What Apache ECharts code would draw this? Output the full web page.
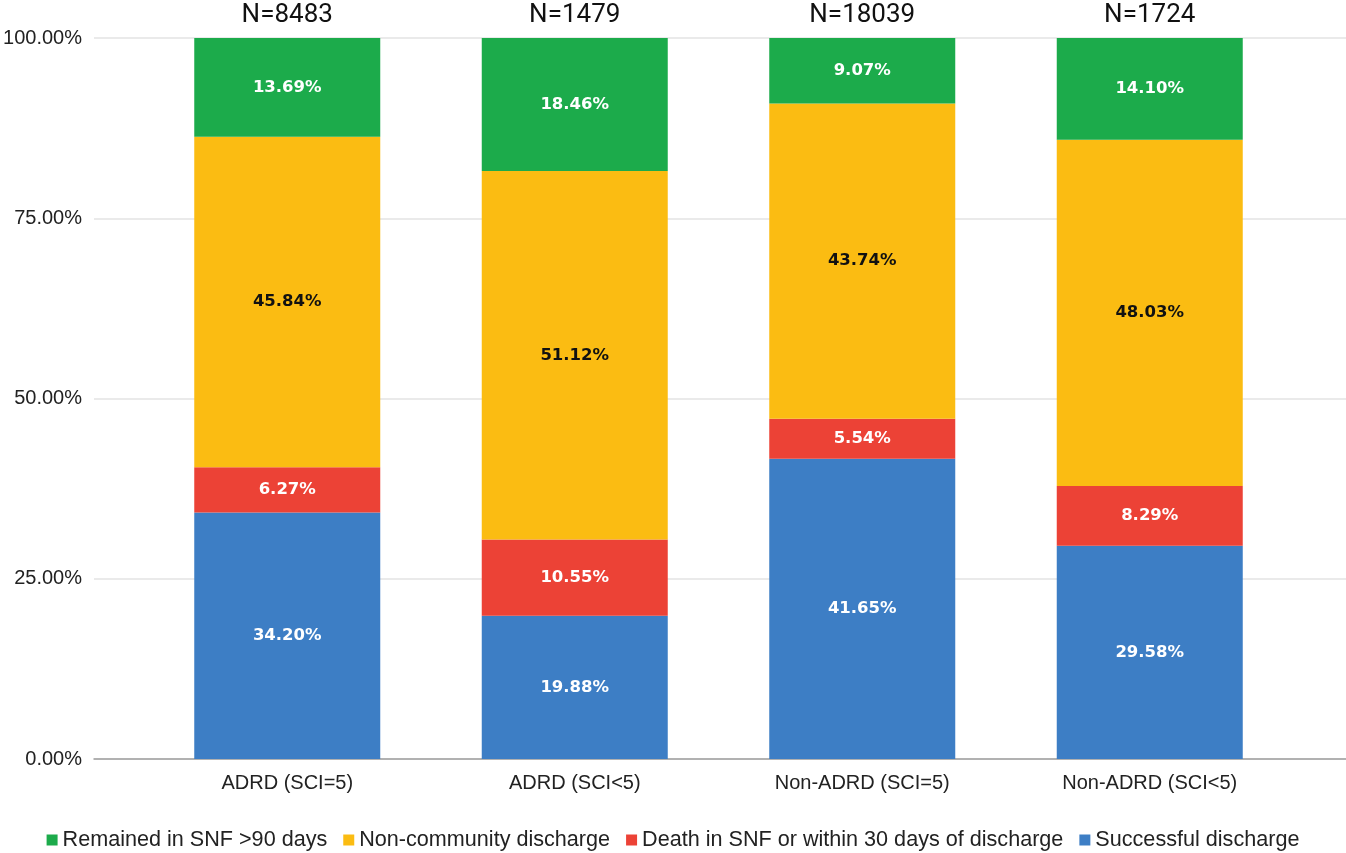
<!DOCTYPE html>
<html>
<head>
<meta charset="utf-8">
<script src="https://cdn.jsdelivr.net/npm/echarts@6/dist/echarts.min.js"></script>
<style>
  html, body { margin: 0; padding: 0; background: #fff; }
  #chart { width: 1346px; height: 853px; }
</style>
</head>
<body>
<div id="chart"></div>
<script>
// groups along the x axis
const categories = ['ADRD (SCI=5)', 'ADRD (SCI<5)', 'Non-ADRD (SCI=5)', 'Non-ADRD (SCI<5)'];
const sampleSizes = ['N=8483', 'N=1479', 'N=18039', 'N=1724'];

// percentages, stacked bottom to top
const successful = [34.20, 19.88, 41.65, 29.58];
const death = [6.27, 10.55, 5.54, 8.29];
const nonCommunity = [45.84, 51.12, 43.74, 48.03];
const remained = [13.69, 18.46, 9.07, 14.10];

const chart = echarts.init(document.getElementById('chart'));

const pct = p => p.value.toFixed(2) + '%';

function bar(name, data, color, textColor) {
  return {
    name: name,
    type: 'bar',
    stack: 'total',
    xAxisIndex: 1,
    yAxisIndex: 1,
    data: data,
    barWidth: 186,
    itemStyle: { color: color },
    label: {
      show: true,
      position: 'inside',
      formatter: pct,
      color: textColor,
      fontFamily: 'DejaVu Sans',
      fontWeight: 'bold',
      fontSize: 16.5
    }
  };
}

const option = {
  animation: false,
  textStyle: { fontFamily: 'Liberation Sans' },
  grid: [
    // only for the long gridlines, baseline and y labels
    { left: 94, right: 0, top: 38, bottom: 94 },
    // the bars
    { left: 143.5, right: 52.5, top: 38, bottom: 94 }
  ],
  xAxis: [
    {
      gridIndex: 0,
      type: 'value',
      axisLine: { show: true, lineStyle: { color: '#9e9e9e', width: 1.5 } },
      axisTick: { show: false },
      axisLabel: { show: false },
      splitLine: { show: false }
    },
    {
      gridIndex: 1,
      type: 'category',
      data: categories,
      axisLine: { show: false },
      axisTick: { show: false },
      axisLabel: { color: '#222', fontSize: 20, margin: 14 }
    },
    {
      gridIndex: 1,
      type: 'category',
      position: 'top',
      data: sampleSizes,
      axisLine: { show: false },
      axisTick: { show: false },
      axisLabel: { color: '#111', fontSize: 26, fontFamily: 'Roboto', margin: 10 }
    }
  ],
  yAxis: [
    {
      gridIndex: 0,
      type: 'value',
      min: 0,
      max: 100,
      interval: 25,
      axisLine: { show: false },
      axisTick: { show: false },
      splitLine: { lineStyle: { color: '#e3e3e3', width: 1.5 } },
      axisLabel: {
        color: '#222',
        fontSize: 20,
        margin: 12,
        formatter: v => v.toFixed(2) + '%'
      }
    },
    {
      gridIndex: 1,
      type: 'value',
      min: 0,
      max: 100,
      show: false
    }
  ],
  legend: {
    top: 824,
    left: 'center',
    itemWidth: 11,
    itemHeight: 11,
    itemGap: 16,
    icon: 'rect',
    textStyle: { color: '#222', fontSize: 21.6 },
    data: [
      'Remained in SNF >90 days',
      'Non-community discharge',
      'Death in SNF or within 30 days of discharge',
      'Successful discharge'
    ]
  },
  series: [
    bar('Successful discharge', successful, '#3d7ec5', '#fff'),
    bar('Death in SNF or within 30 days of discharge', death, '#ec4236', '#fff'),
    bar('Non-community discharge', nonCommunity, '#fbbc12', '#111'),
    bar('Remained in SNF >90 days', remained, '#1cab4b', '#fff')
  ]
};

chart.setOption(option);
</script>
</body>
</html>
